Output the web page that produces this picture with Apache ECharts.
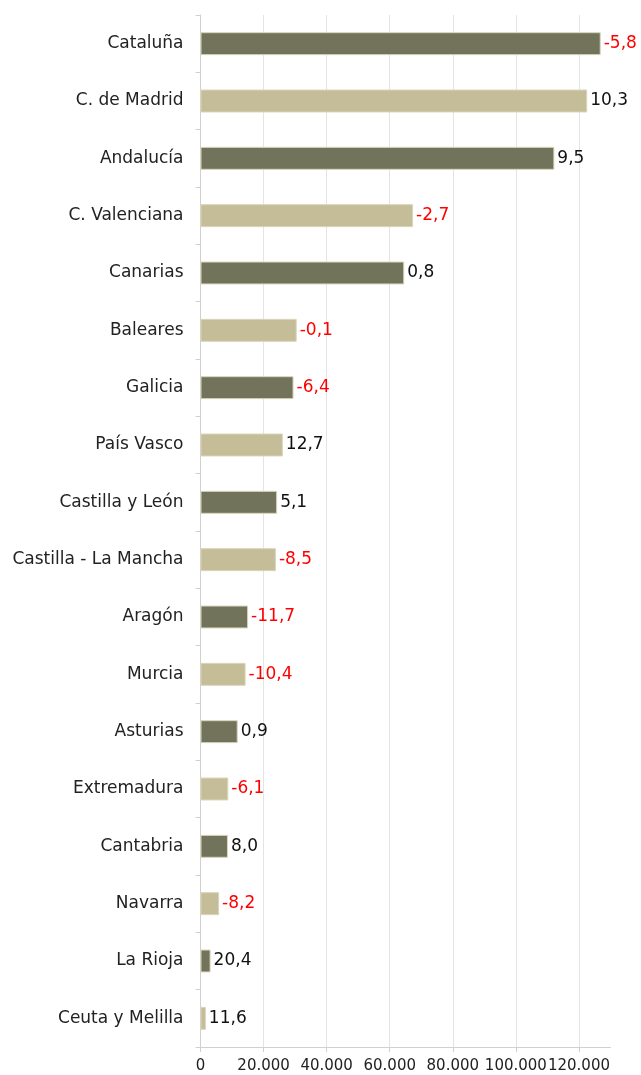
<!DOCTYPE html>
<html>
<head>
<meta charset="utf-8">
<script src="https://cdn.jsdelivr.net/npm/echarts@6/dist/echarts.min.js"></script>
<style>
html,body{margin:0;padding:0;background:#fff;}
#chart{width:641px;height:1075px;}
</style>
</head>
<body>
<div id="chart"></div>
<script>
const regions = ['Cataluña','C. de Madrid','Andalucía','C. Valenciana','Canarias','Baleares','Galicia','País Vasco','Castilla y León','Castilla - La Mancha','Aragón','Murcia','Asturias','Extremadura','Cantabria','Navarra','La Rioja','Ceuta y Melilla'];
const values = [126900,122600,112200,67400,64600,30500,29500,26100,24300,23900,15100,14300,11800,8800,8700,5900,3200,1700];
const changes = [-5.8,10.3,9.5,-2.7,0.8,-0.1,-6.4,12.7,5.1,-8.5,-11.7,-10.4,0.9,-6.1,8.0,-8.2,20.4,11.6];
const xTicks = [0,20000,40000,60000,80000,100000,120000];

const FONT = '"DejaVu Sans", Verdana, sans-serif';
const DARK = '#71735a', LIGHT = '#c4bd98';

const chart = echarts.init(document.getElementById('chart'));
chart.setOption({
  animation:false,
  grid:{left:200.5,right:30.5,top:15,bottom:28,containLabel:false},
  xAxis:{
    type:'value', min:0, max:130000, interval:20000,
    axisLine:{show:true,lineStyle:{color:'#d0d0d0'}},
    axisTick:{show:true,length:5,lineStyle:{color:'#d0d0d0'}},
    splitLine:{show:true,showMaxLine:false,lineStyle:{color:'#e4e4e4'}},
    axisLabel:{
      fontFamily:FONT,fontSize:15,color:'#222',margin:12,showMaxLabel:false,
      formatter:v=> xTicks.indexOf(v)>=0 ? v.toLocaleString('de-DE') : ''
    }
  },
  yAxis:{
    type:'category', data:regions, inverse:true,
    axisLine:{show:true,lineStyle:{color:'#d0d0d0'}},
    axisTick:{show:true,length:5,lineStyle:{color:'#d0d0d0'}},
    axisLabel:{fontFamily:FONT,fontSize:17,color:'#222',margin:17}
  },
  series:[{
    type:'bar', barWidth:'40%',
    data:values,
    itemStyle:{
      color:p=> p.dataIndex%2===0 ? DARK : LIGHT,
      borderColor:'#d9d4bb', borderWidth:1
    },
    label:{
      show:true, position:'right', distance:3,
      fontFamily:FONT, fontSize:17,
      formatter:p=>{
        const c = changes[p.dataIndex];
        const s = c.toFixed(1).replace('.',',');
        return c<0 ? '{n|'+s+'}' : '{p|'+s+'}';
      },
      rich:{
        n:{color:'#ff0000',fontFamily:FONT,fontSize:17},
        p:{color:'#111',fontFamily:FONT,fontSize:17}
      }
    }
  }]
});
</script>
</body>
</html>
